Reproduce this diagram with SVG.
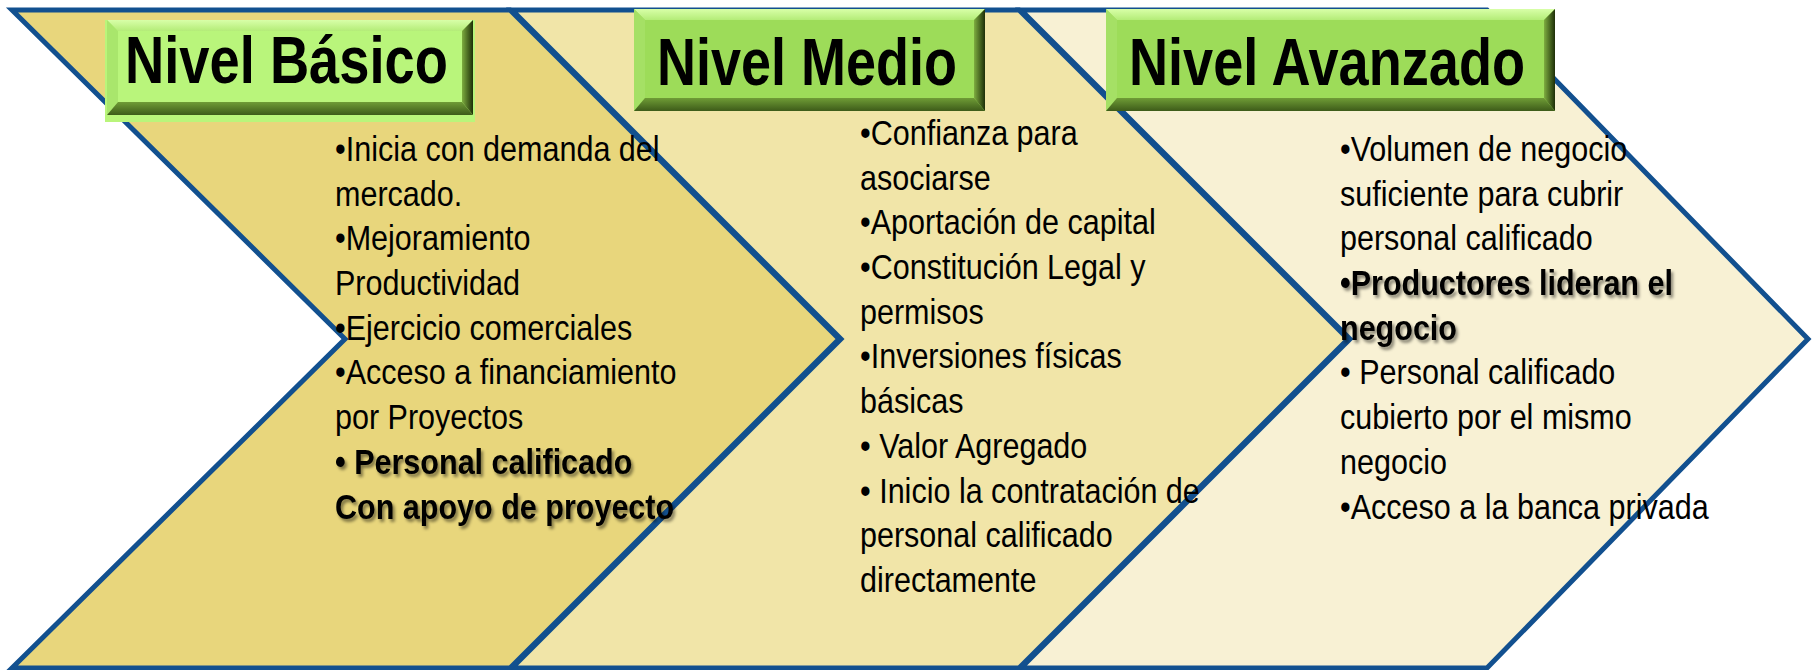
<svg xmlns="http://www.w3.org/2000/svg" width="1812" height="670" viewBox="0 0 1812 670">
<style>
.chev{stroke:#12508F;stroke-width:5;stroke-linejoin:miter}
.hdr{font-family:"Liberation Sans",Arial,sans-serif;font-weight:bold;font-size:67px;fill:#000}
.body{font-family:"Liberation Sans",Arial,sans-serif;font-size:34.5px;fill:#000}
.b{font-weight:bold;filter:url(#sh)}
</style>
<defs>
<linearGradient id="gBot" x1="0" y1="0" x2="0" y2="1"><stop offset="0" stop-color="#6F9C36"/><stop offset="1" stop-color="#3D5B19"/></linearGradient>
<linearGradient id="gRight" x1="0" y1="0" x2="1" y2="0"><stop offset="0" stop-color="#7EAD40"/><stop offset="1" stop-color="#1E2F08"/></linearGradient>
<linearGradient id="gTop" x1="0" y1="0" x2="0" y2="1"><stop offset="0" stop-color="#D8FFA8"/><stop offset="1" stop-color="#B4EC78"/></linearGradient>
<filter id="sh" x="-5%" y="-30%" width="115%" height="170%"><feDropShadow dx="2.5" dy="3" stdDeviation="1.6" flood-color="#000" flood-opacity="0.45"/></filter>
</defs>

<g id="chevrons">
<path id="chevron-avanzado" class="chev" fill="#F8F1D4" d="M1021,10 H1487 L1808,339 L1487,668 H1021 L1350,339 Z"/>
<path id="chevron-medio" class="chev" fill="#F1E5A8" d="M512,10 H1019 L1348,339 L1019,668 H512 L841,339 Z"/>
<path id="chevron-basico" class="chev" fill="#E8D67C" d="M12,10 H510 L839,339 L510,668 H12 L345,339 Z"/>
</g>

<g id="nivel-basico">
<rect x="105" y="20" width="370" height="102" fill="#B9F57B"/>
<rect x="107" y="20" width="366" height="95" fill="#B9F57B"/>
<polygon points="107,20 473,20 462,31 118,31" fill="url(#gTop)"/>
<polygon points="107,20 118,31 118,102 107,115" fill="#A9E66C"/>
<polygon points="473,20 473,115 462,102 462,31" fill="url(#gRight)"/>
<polygon points="107,115 118,102 462,102 473,115" fill="url(#gBot)"/>
<text class="hdr" x="125" y="83" textLength="323" lengthAdjust="spacingAndGlyphs">Nivel Básico</text>
<g transform="translate(335 0) scale(0.885 1)" class="body">
<text x="0" y="161">•Inicia con demanda del</text>
<text x="0" y="205.7">mercado.</text>
<text x="0" y="250.4">•Mejoramiento</text>
<text x="0" y="295.1">Productividad</text>
<text x="0" y="339.8">•Ejercicio comerciales</text>
<text x="0" y="384.5">•Acceso a financiamiento</text>
<text x="0" y="429.2">por Proyectos</text>
<text x="0" y="473.9" class="b">• Personal calificado</text>
<text x="0" y="518.6" class="b">Con apoyo de proyecto</text>
</g>
</g>

<g id="nivel-medio">
<rect x="634" y="9" width="351" height="102" fill="#9DDC59"/>
<polygon points="634,9 985,9 974,20 645,20" fill="url(#gTop)"/>
<polygon points="634,9 645,20 645,98 634,111" fill="#A5E065"/>
<polygon points="985,9 985,111 974,98 974,20" fill="url(#gRight)"/>
<polygon points="634,111 645,98 974,98 985,111" fill="url(#gBot)"/>
<text class="hdr" x="657" y="85" textLength="300" lengthAdjust="spacingAndGlyphs">Nivel Medio</text>
<g transform="translate(860 0) scale(0.885 1)" class="body">
<text x="0" y="145">•Confianza para</text>
<text x="0" y="189.7">asociarse</text>
<text x="0" y="234.4">•Aportación de capital</text>
<text x="0" y="279.1">•Constitución Legal y</text>
<text x="0" y="323.8">permisos</text>
<text x="0" y="368.5">•Inversiones físicas</text>
<text x="0" y="413.2">básicas</text>
<text x="0" y="457.9">• Valor Agregado</text>
<text x="0" y="502.6">• Inicio la contratación de</text>
<text x="0" y="547.3">personal calificado</text>
<text x="0" y="592">directamente</text>
</g>
</g>

<g id="nivel-avanzado">
<rect x="1106" y="9" width="449" height="102" fill="#9DDC59"/>
<polygon points="1106,9 1555,9 1544,20 1117,20" fill="url(#gTop)"/>
<polygon points="1106,9 1117,20 1117,98 1106,111" fill="#A5E065"/>
<polygon points="1555,9 1555,111 1544,98 1544,20" fill="url(#gRight)"/>
<polygon points="1106,111 1117,98 1544,98 1555,111" fill="url(#gBot)"/>
<text class="hdr" x="1129" y="85" textLength="396" lengthAdjust="spacingAndGlyphs">Nivel Avanzado</text>
<g transform="translate(1340 0) scale(0.885 1)" class="body">
<text x="0" y="161">•Volumen de negocio</text>
<text x="0" y="205.7">suficiente para cubrir</text>
<text x="0" y="250.4">personal calificado</text>
<text x="0" y="295.1" class="b">•Productores lideran el</text>
<text x="0" y="339.8" class="b">negocio</text>
<text x="0" y="384.5">• Personal calificado</text>
<text x="0" y="429.2">cubierto por el mismo</text>
<text x="0" y="473.9">negocio</text>
<text x="0" y="518.6">•Acceso a la banca privada</text>
</g>
</g>
</svg>
